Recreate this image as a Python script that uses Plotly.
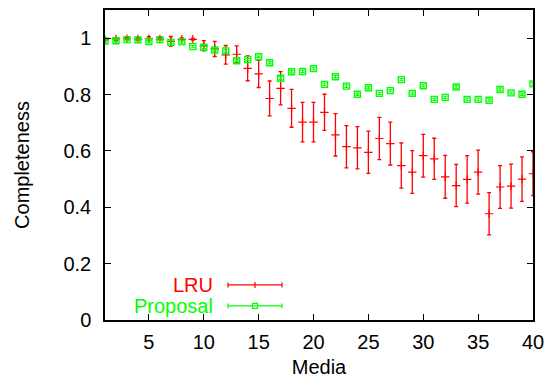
import plotly.graph_objects as go

# Number of media (x axis)
media = list(range(1, 41))

# LRU completeness: mean and error half-width
lru_mean = [0.995, 0.997, 0.998, 0.997, 0.998, 0.997, 0.989, 0.996, 0.996, 0.973,
            0.962, 0.941, 0.943, 0.893, 0.873, 0.786, 0.822, 0.751, 0.702, 0.702,
            0.737, 0.657, 0.615, 0.611, 0.595, 0.644, 0.626, 0.548, 0.525, 0.583,
            0.572, 0.508, 0.477, 0.499, 0.525, 0.377, 0.472, 0.475, 0.500, 0.519]
lru_err = [0.004, 0.005, 0.004, 0.005, 0.007, 0.005, 0.017, 0.005, 0.003, 0.018,
           0.027, 0.033, 0.030, 0.044, 0.048, 0.062, 0.059, 0.067, 0.070, 0.070,
           0.064, 0.075, 0.075, 0.075, 0.075, 0.075, 0.076, 0.080, 0.076, 0.076,
           0.073, 0.076, 0.075, 0.084, 0.078, 0.075, 0.076, 0.078, 0.079, 0.078]

# Proposal completeness: mean and error half-width
prop_mean = [0.990, 0.991, 0.995, 0.994, 0.988, 0.995, 0.985, 0.987, 0.970, 0.968,
             0.958, 0.955, 0.920, 0.924, 0.934, 0.913, 0.858, 0.881, 0.882, 0.892,
             0.836, 0.863, 0.830, 0.801, 0.824, 0.804, 0.814, 0.853, 0.804, 0.831,
             0.783, 0.790, 0.827, 0.783, 0.783, 0.780, 0.818, 0.806, 0.801, 0.838]
prop_err = [0.004, 0.004, 0.003, 0.004, 0.005, 0.003, 0.006, 0.005, 0.004, 0.005,
            0.004, 0.005, 0.004, 0.004, 0.003, 0.004, 0.005, 0.004, 0.004, 0.005,
            0.005, 0.004, 0.005, 0.004, 0.004, 0.004, 0.004, 0.004, 0.005, 0.004,
            0.004, 0.004, 0.005, 0.005, 0.005, 0.004, 0.005, 0.004, 0.004, 0.005]

x_ticks = [5, 10, 15, 20, 25, 30, 35, 40]
y_ticks = [0, 0.2, 0.4, 0.6, 0.8, 1]
y_tick_text = ["0", "0.2", "0.4", "0.6", "0.8", "1"]

RED = "rgb(255,0,0)"
GREEN = "rgb(0,255,0)"
FONT = "Liberation Sans, Arial, sans-serif"
FSIZE = 20

fig = go.Figure()

fig.add_trace(go.Scatter(
    x=media, y=lru_mean, mode="markers", name="LRU",
    marker=dict(symbol="cross-thin-open", size=6, color=RED,
                line=dict(color=RED, width=1.2)),
    error_y=dict(type="data", array=lru_err, visible=True,
                 color=RED, thickness=1.3, width=2),
    showlegend=False,
))

fig.add_trace(go.Scatter(
    x=media, y=prop_mean, mode="markers", name="Proposal",
    marker=dict(symbol="square-open", size=6, color=GREEN,
                line=dict(color=GREEN, width=1.4)),
    error_y=dict(type="data", array=prop_err, visible=True,
                 color=GREEN, thickness=1.1, width=2),
    showlegend=False,
))

# Key in the lower-left corner: label on the left, sample on the right
key_text_x = 0.257
key_mid_x = 0.3505
key_rows = [("LRU", RED, 0.113, "plus"), ("Proposal", GREEN, 0.0455, "square")]
shapes = []
annotations = []
for label, col, yk, kind in key_rows:
    annotations.append(dict(
        x=key_text_x, y=yk, xref="paper", yref="paper", text=label,
        showarrow=False, xanchor="right", yanchor="middle",
        font=dict(family=FONT, size=FSIZE, color=col),
    ))
    # horizontal sample line with end caps
    shapes.append(dict(type="line", xref="paper", yref="paper",
                       xsizemode="pixel", xanchor=key_mid_x, x0=-27, x1=27,
                       y0=yk, y1=yk, line=dict(color=col, width=1.2)))
    for ex in (-27, 27):
        shapes.append(dict(type="line", xref="paper", yref="paper",
                           xsizemode="pixel", ysizemode="pixel",
                           xanchor=key_mid_x, yanchor=yk,
                           x0=ex, x1=ex, y0=-2.5, y1=2.5,
                           line=dict(color=col, width=1.2)))
    if kind == "plus":
        shapes.append(dict(type="line", xref="paper", yref="paper",
                           xsizemode="pixel", ysizemode="pixel",
                           xanchor=key_mid_x, yanchor=yk,
                           x0=0, x1=0, y0=-3, y1=3,
                           line=dict(color=col, width=1.2)))
    else:
        shapes.append(dict(type="rect", xref="paper", yref="paper",
                           xsizemode="pixel", ysizemode="pixel",
                           xanchor=key_mid_x, yanchor=yk,
                           x0=-2.5, x1=2.5, y0=-2.5, y1=2.5,
                           line=dict(color=col, width=1.2)))

axis_common = dict(
    showline=True, linecolor="black", linewidth=1.5, mirror="ticks",
    ticks="inside", ticklen=6, tickwidth=1, tickcolor="black",
    showgrid=False, zeroline=False, automargin=False,
    tickfont=dict(family=FONT, size=FSIZE, color="black"),
)

fig.update_layout(
    template="none",
    width=549, height=386,
    margin=dict(l=105, r=16, t=10, b=66, pad=0),
    paper_bgcolor="white", plot_bgcolor="white",
    xaxis=dict(range=[1, 40], tickvals=x_ticks,
               title=dict(text="Media", font=dict(family=FONT, size=FSIZE, color="black"),
                          standoff=8),
               ticklabelstandoff=3, **axis_common),
    yaxis=dict(range=[0, 1.1], tickvals=y_ticks, ticktext=y_tick_text,
               title=dict(text="Completeness", font=dict(family=FONT, size=FSIZE, color="black"),
                          standoff=28),
               ticklabelstandoff=8, **axis_common),
    shapes=shapes,
    annotations=annotations,
)

fig.write_html("out.html")
